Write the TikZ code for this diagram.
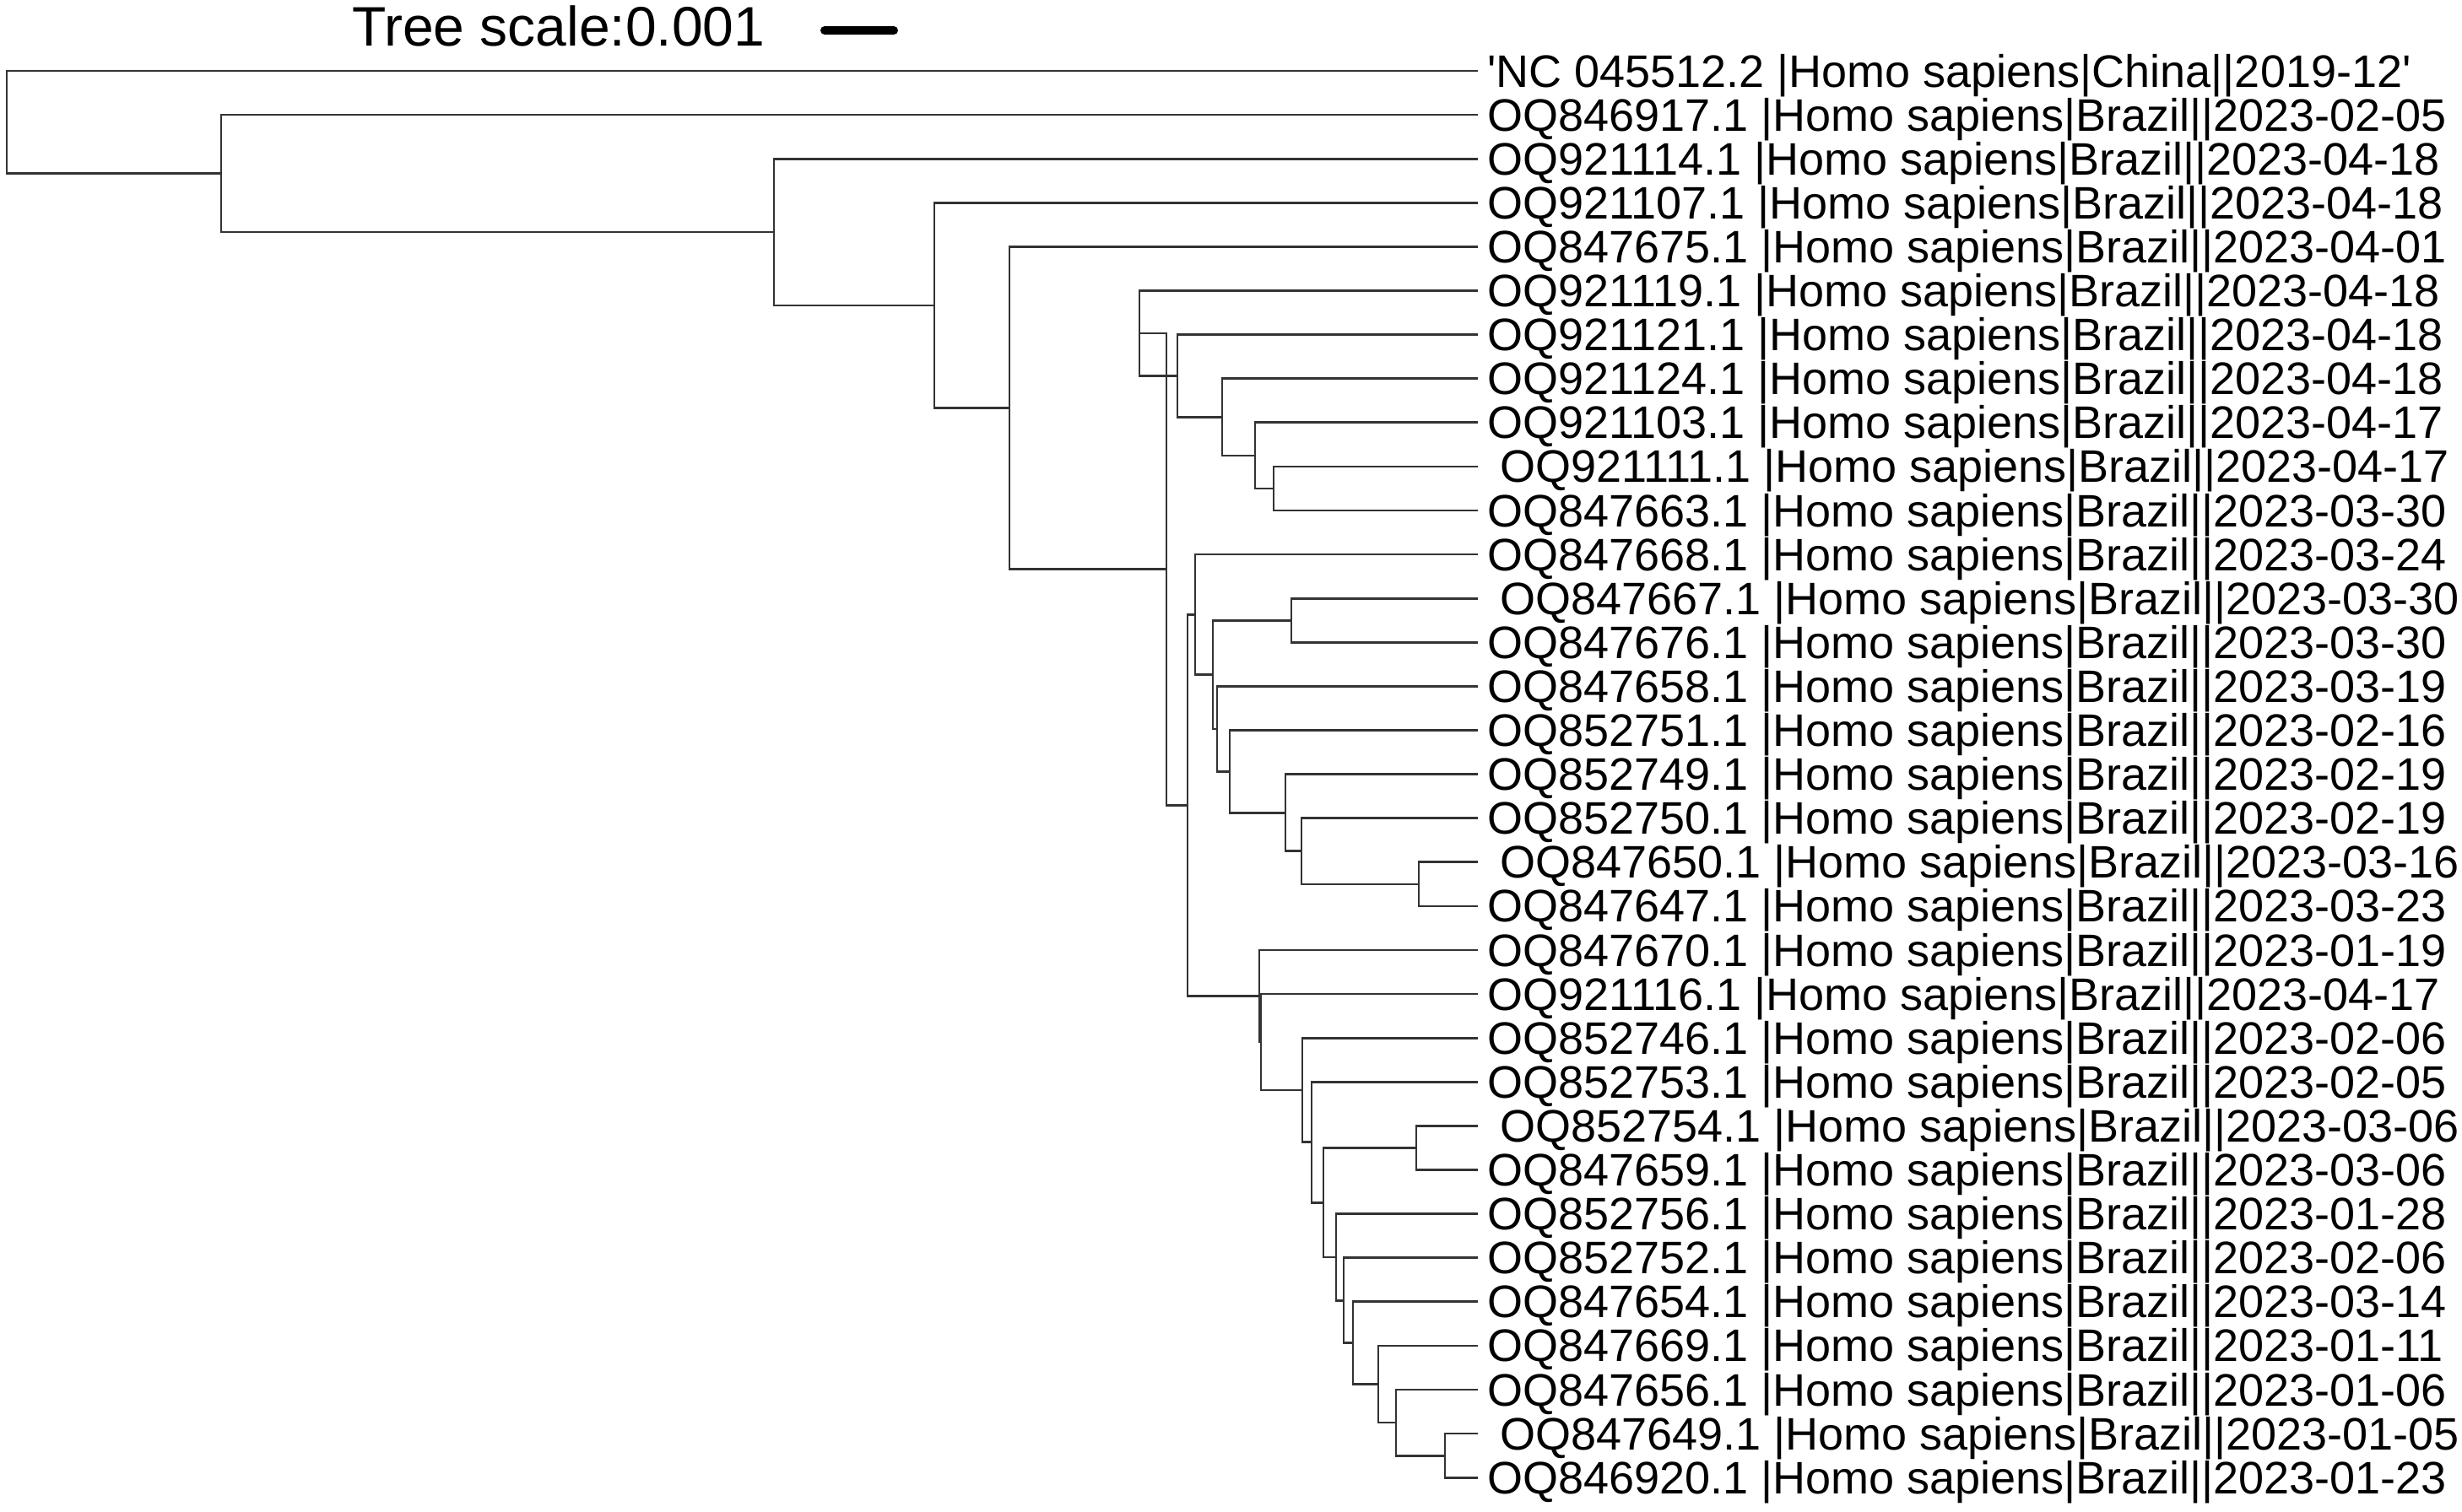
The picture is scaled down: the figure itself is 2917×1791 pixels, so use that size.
\documentclass[tikz,border=0pt]{standalone}
\usepackage{fontspec}
\setmainfont{Liberation Sans}
\newfontfamily\labfont{Liberation Sans}[Ligatures=TeXOff]
\usetikzlibrary{calc}
\begin{document}
\begin{tikzpicture}[x=1pt,y=-1pt,
  branch/.style={draw=black!80, line width=2.7pt},
  lab/.style={anchor=base west, inner sep=0pt, font=\labfont\fontsize{54}{54}\selectfont},
  sp/.style={xshift=15pt}]
\useasboundingbox (0,0) rectangle (2917,1791);
% scale
\node[anchor=base west, inner sep=0pt, font=\labfont\fontsize{66}{66}\selectfont] (sc) at (417,54) {Tree scale:0.001};
\coordinate (sbL) at (977,36);
\coordinate (sbR) at (1059,36);
\draw[line width=10pt, line cap=round] (sbL) -- (sbR);
% leaves
\foreach \k in {1,...,33}{
  \coordinate (l\k) at (1751,{84+52.1*(\k-1)});
}
% internal nodes
\coordinate (root) at (8,144.79);
\coordinate (A) at (262,205.58);
\coordinate (B) at (917,275.06);
\coordinate (C) at (1107,361.93);
\coordinate (D) at (1196,483.55);
\coordinate (E) at (1382,674.70);
\coordinate (F) at (1350,394.97);
\coordinate (G) at (1395,445.44);
\coordinate (H) at (1448,494.29);
\coordinate (I) at (1487,539.88);
\coordinate (J) at (1509,578.95);
\coordinate (K) at (1407,954.43);
\coordinate (L) at (1416,728.33);
\coordinate (M) at (1437,799.56);
\coordinate (N) at (1530,735.25);
\coordinate (O) at (1442,863.87);
\coordinate (P) at (1457,914.34);
\coordinate (Q) at (1523,963.19);
\coordinate (R) at (1542,1008.78);
\coordinate (S) at (1681,1047.85);
\coordinate (T) at (1492,1180.52);
\coordinate (U) at (1494,1235.04);
\coordinate (V) at (1543,1291.97);
\coordinate (W) at (1554,1353.74);
\coordinate (X) at (1568,1425.17);
\coordinate (Y) at (1678,1360.45);
\coordinate (Z) at (1583,1489.89);
\coordinate (AA) at (1592,1541.18);
\coordinate (AB) at (1603,1591.65);
\coordinate (AC) at (1633,1640.49);
\coordinate (AD) at (1654,1686.08);
\coordinate (AE) at (1712,1725.15);
% branches
\path[branch]
  (root) |- (l1)  (root) |- (A)
  (A) |- (l2)  (A) |- (B)
  (B) |- (l3)  (B) |- (C)
  (C) |- (l4)  (C) |- (D)
  (D) |- (l5)  (D) |- (E)
  (E) |- (F)   (E) |- (K)
  (F) |- (l6)  (F) |- (G)
  (G) |- (l7)  (G) |- (H)
  (H) |- (l8)  (H) |- (I)
  (I) |- (l9)  (I) |- (J)
  (J) |- (l10) (J) |- (l11)
  (K) |- (L)   (K) |- (T)
  (L) |- (l12) (L) |- (M)
  (M) |- (N)   (M) |- (O)
  (N) |- (l13) (N) |- (l14)
  (O) |- (l15) (O) |- (P)
  (P) |- (l16) (P) |- (Q)
  (Q) |- (l17) (Q) |- (R)
  (R) |- (l18) (R) |- (S)
  (S) |- (l19) (S) |- (l20)
  (T) |- (l21) (T) |- (U)
  (U) |- (l22) (U) |- (V)
  (V) |- (l23) (V) |- (W)
  (W) |- (l24) (W) |- (X)
  (X) |- (Y)   (X) |- (Z)
  (Y) |- (l25) (Y) |- (l26)
  (Z) |- (l27) (Z) |- (AA)
  (AA) |- (l28) (AA) |- (AB)
  (AB) |- (l29) (AB) |- (AC)
  (AC) |- (l30) (AC) |- (AD)
  (AD) |- (l31) (AD) |- (AE)
  (AE) |- (l32) (AE) |- (l33);
% labels
\node[lab] (t1) at ($(l1)+(11,19)$) {'NC 045512.2 |Homo sapiens|China||2019-12'};
\node[lab] (t2) at ($(l2)+(11,19)$) {OQ846917.1 |Homo sapiens|Brazil||2023-02-05};
\node[lab] (t3) at ($(l3)+(11,19)$) {OQ921114.1 |Homo sapiens|Brazil||2023-04-18};
\node[lab] (t4) at ($(l4)+(11,19)$) {OQ921107.1 |Homo sapiens|Brazil||2023-04-18};
\node[lab] (t5) at ($(l5)+(11,19)$) {OQ847675.1 |Homo sapiens|Brazil||2023-04-01};
\node[lab] (t6) at ($(l6)+(11,19)$) {OQ921119.1 |Homo sapiens|Brazil||2023-04-18};
\node[lab] (t7) at ($(l7)+(11,19)$) {OQ921121.1 |Homo sapiens|Brazil||2023-04-18};
\node[lab] (t8) at ($(l8)+(11,19)$) {OQ921124.1 |Homo sapiens|Brazil||2023-04-18};
\node[lab] (t9) at ($(l9)+(11,19)$) {OQ921103.1 |Homo sapiens|Brazil||2023-04-17};
\node[lab,sp] (t10) at ($(l10)+(11,19)$) {OQ921111.1 |Homo sapiens|Brazil||2023-04-17};
\node[lab] (t11) at ($(l11)+(11,19)$) {OQ847663.1 |Homo sapiens|Brazil||2023-03-30};
\node[lab] (t12) at ($(l12)+(11,19)$) {OQ847668.1 |Homo sapiens|Brazil||2023-03-24};
\node[lab,sp] (t13) at ($(l13)+(11,19)$) {OQ847667.1 |Homo sapiens|Brazil||2023-03-30};
\node[lab] (t14) at ($(l14)+(11,19)$) {OQ847676.1 |Homo sapiens|Brazil||2023-03-30};
\node[lab] (t15) at ($(l15)+(11,19)$) {OQ847658.1 |Homo sapiens|Brazil||2023-03-19};
\node[lab] (t16) at ($(l16)+(11,19)$) {OQ852751.1 |Homo sapiens|Brazil||2023-02-16};
\node[lab] (t17) at ($(l17)+(11,19)$) {OQ852749.1 |Homo sapiens|Brazil||2023-02-19};
\node[lab] (t18) at ($(l18)+(11,19)$) {OQ852750.1 |Homo sapiens|Brazil||2023-02-19};
\node[lab,sp] (t19) at ($(l19)+(11,19)$) {OQ847650.1 |Homo sapiens|Brazil||2023-03-16};
\node[lab] (t20) at ($(l20)+(11,19)$) {OQ847647.1 |Homo sapiens|Brazil||2023-03-23};
\node[lab] (t21) at ($(l21)+(11,19)$) {OQ847670.1 |Homo sapiens|Brazil||2023-01-19};
\node[lab] (t22) at ($(l22)+(11,19)$) {OQ921116.1 |Homo sapiens|Brazil||2023-04-17};
\node[lab] (t23) at ($(l23)+(11,19)$) {OQ852746.1 |Homo sapiens|Brazil||2023-02-06};
\node[lab] (t24) at ($(l24)+(11,19)$) {OQ852753.1 |Homo sapiens|Brazil||2023-02-05};
\node[lab,sp] (t25) at ($(l25)+(11,19)$) {OQ852754.1 |Homo sapiens|Brazil||2023-03-06};
\node[lab] (t26) at ($(l26)+(11,19)$) {OQ847659.1 |Homo sapiens|Brazil||2023-03-06};
\node[lab] (t27) at ($(l27)+(11,19)$) {OQ852756.1 |Homo sapiens|Brazil||2023-01-28};
\node[lab] (t28) at ($(l28)+(11,19)$) {OQ852752.1 |Homo sapiens|Brazil||2023-02-06};
\node[lab] (t29) at ($(l29)+(11,19)$) {OQ847654.1 |Homo sapiens|Brazil||2023-03-14};
\node[lab] (t30) at ($(l30)+(11,19)$) {OQ847669.1 |Homo sapiens|Brazil||2023-01-11};
\node[lab] (t31) at ($(l31)+(11,19)$) {OQ847656.1 |Homo sapiens|Brazil||2023-01-06};
\node[lab,sp] (t32) at ($(l32)+(11,19)$) {OQ847649.1 |Homo sapiens|Brazil||2023-01-05};
\node[lab] (t33) at ($(l33)+(11,19)$) {OQ846920.1 |Homo sapiens|Brazil||2023-01-23};
\end{tikzpicture}
\end{document}
